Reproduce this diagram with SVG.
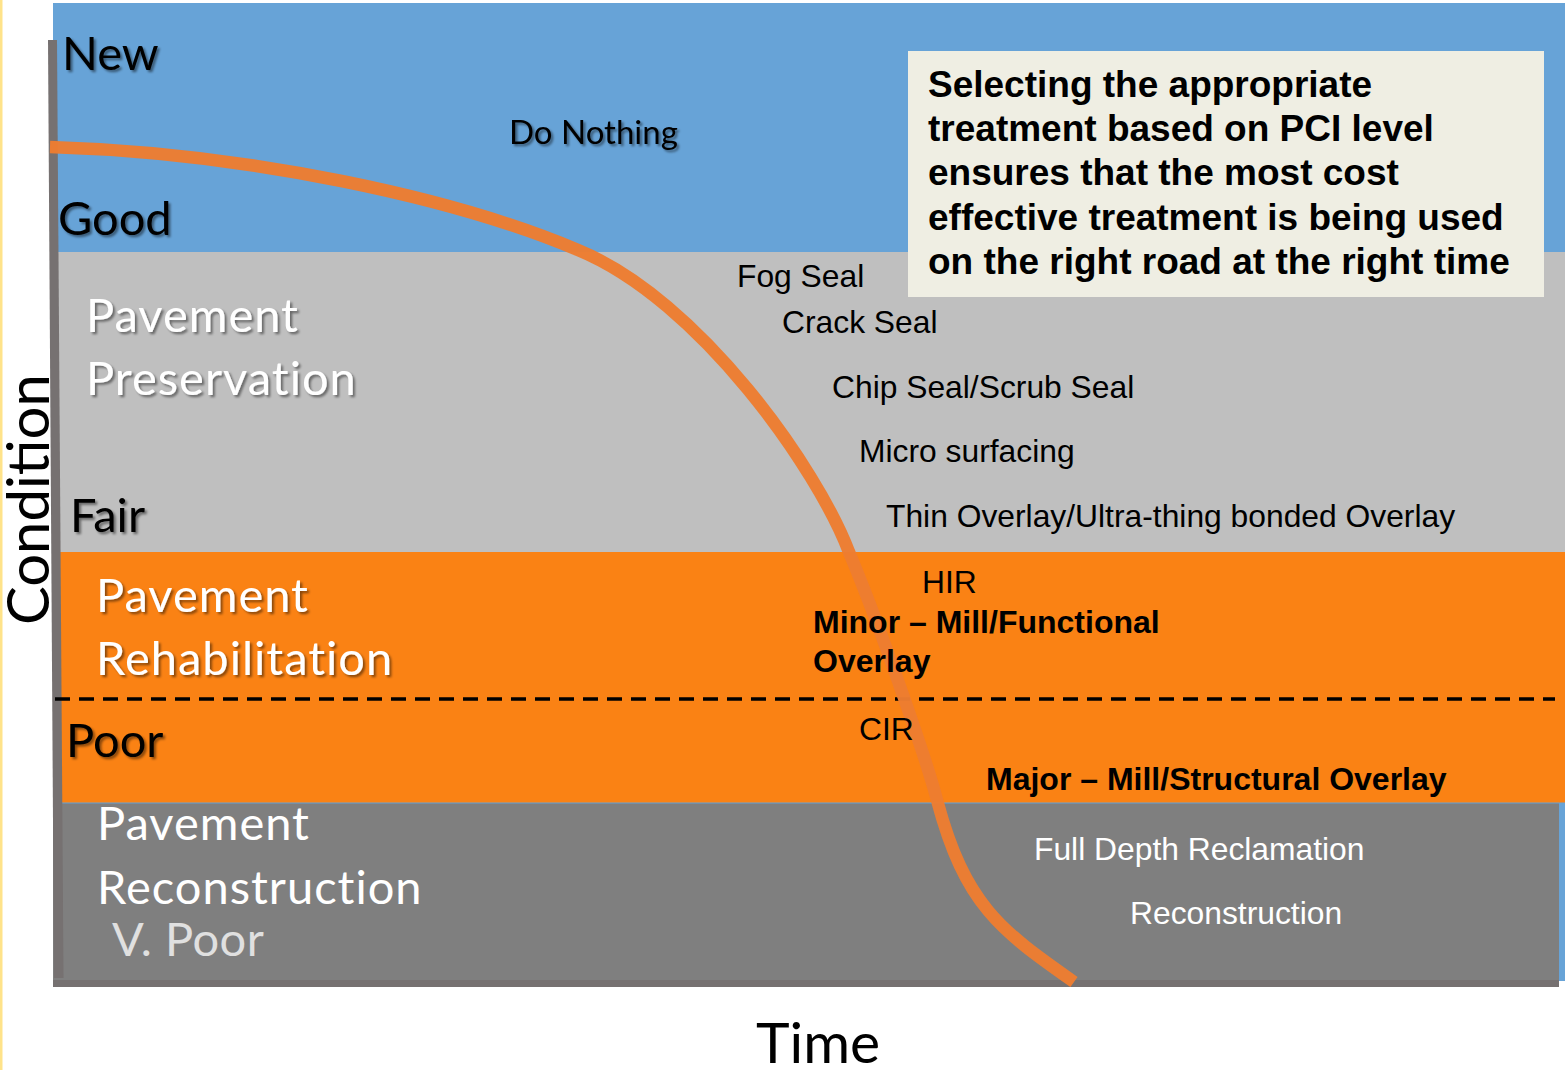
<svg xmlns="http://www.w3.org/2000/svg" width="1565" height="1070" viewBox="0 0 1565 1070">
  <defs>
    <filter id="sh" x="-10%" y="-30%" width="130%" height="170%">
      <feDropShadow dx="2.2" dy="2.2" stdDeviation="1.3" flood-color="#000" flood-opacity="0.45"/>
    </filter>
    <style>
      .cal { font-family: Lato, "Open Sans", sans-serif; }
      .ar { font-family: "Liberation Sans", Arial, sans-serif; font-size: 31.8px; }
      .arb { font-family: "Liberation Sans", Arial, sans-serif; font-size: 32px; font-weight: bold; }
      .box { font-family: "Liberation Sans", Arial, sans-serif; font-size: 37px; font-weight: bold; fill: #000; }
      .lvl { font-size: 47px; fill: #000; }
      .cat { font-size: 47px; fill: #fff; letter-spacing: 1px; }
      .shd { filter: url(#sh); }
    </style>
  </defs>
  <rect x="0" y="0" width="1565" height="1070" fill="#fff"/>
  <rect x="0" y="0" width="2.5" height="1070" fill="#FFE38A"/>

  <g id="bands">
    <rect id="band-blue" x="53" y="3" width="1512" height="978" fill="#67A3D7"/>
    <rect id="band-preservation" x="56" y="252" width="1509" height="300" fill="#BFBFBF"/>
    <rect id="band-rehabilitation" x="58" y="552" width="1507" height="250.5" fill="#FA8214"/>
    <rect id="band-reconstruction" x="53" y="803.5" width="1506" height="177" fill="#7F7F7F"/>
  </g>

  <g id="axes" fill="#767171">
    <polygon points="48,40 57,40 63.5,978 54,978"/>
    <rect x="53" y="980" width="1506" height="7"/>
  </g>

  <g id="connectors">
    <line x1="55" y1="699" x2="1555" y2="699" stroke="#000" stroke-width="3.5" stroke-dasharray="15 9"/>
    <path d="M50,147 C250,153 455,198 578,250 C700,300 818,470 849,552 C880,626 925,755 937,800 C965,905 1000,930 1074,982" fill="none" stroke="#ED7D31" stroke-width="12.5" stroke-linecap="butt" opacity="0.97"/>
  </g>

  <g id="levels" class="cal">
    <text class="lvl shd" x="62" y="70">New</text>
    <text class="lvl shd" x="58" y="235">Good</text>
    <text class="lvl shd" x="70" y="532">Fair</text>
    <text class="lvl shd" x="66" y="757">Poor</text>
    <text x="112" y="956" font-size="47" fill="#E0E0E0" letter-spacing="0.5">V. Poor</text>
  </g>

  <g id="categories" class="cal">
    <text class="cat shd" x="86" y="332">Pavement</text>
    <text class="cat shd" x="86" y="395">Preservation</text>
    <text class="cat shd" x="96" y="612">Pavement</text>
    <text class="cat shd" x="96" y="675">Rehabilitation</text>
    <text class="cat" x="97" y="840">Pavement</text>
    <text class="cat" x="97" y="904">Reconstruction</text>
  </g>

  <g id="axis-labels" class="cal" fill="#000">
    <text x="49" y="625" font-size="58" transform="rotate(-90 49 625)">Condition</text>
    <text x="756" y="1063" font-size="57">Time</text>
  </g>

  <g id="do-nothing" class="cal">
    <text class="shd" x="509" y="144" font-size="33" fill="#000">Do Nothing</text>
  </g>

  <g id="treatments" fill="#000">
    <text class="ar" x="737" y="287">Fog Seal</text>
    <text class="ar" x="782" y="333">Crack Seal</text>
    <text class="ar" x="832" y="398">Chip Seal/Scrub Seal</text>
    <text class="ar" x="859" y="462">Micro surfacing</text>
    <text class="ar" x="886" y="527">Thin Overlay/Ultra-thing bonded Overlay</text>
    <text class="ar" x="922" y="593">HIR</text>
    <text class="arb" x="813" y="633">Minor – Mill/Functional</text>
    <text class="arb" x="813" y="672">Overlay</text>
    <text class="ar" x="859" y="740">CIR</text>
    <text class="arb" x="986" y="790">Major – Mill/Structural Overlay</text>
    <text class="ar" x="1034" y="860" fill="#fff">Full Depth Reclamation</text>
    <text class="ar" x="1130" y="924" fill="#fff">Reconstruction</text>
  </g>

  <g id="note">
    <rect x="908" y="51" width="636" height="246" fill="#EFEEE3"/>
    <text class="box" x="928" y="97">Selecting the appropriate</text>
    <text class="box" x="928" y="141">treatment based on PCI level</text>
    <text class="box" x="928" y="185">ensures that the most cost</text>
    <text class="box" x="928" y="230">effective treatment is being used</text>
    <text class="box" x="928" y="274">on the right road at the right time</text>
  </g>
</svg>
